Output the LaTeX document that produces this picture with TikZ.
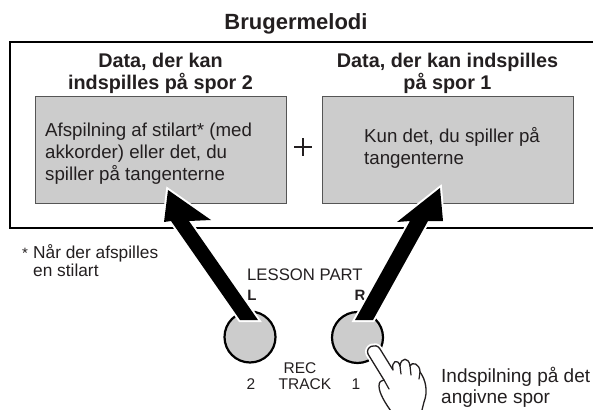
\documentclass[tikz,border=0pt]{standalone}
\usepackage{fontspec}
\setmainfont{Liberation Sans}
\usetikzlibrary{calc}
\definecolor{panel}{HTML}{CCCCCC}
\definecolor{panelrule}{HTML}{555555}
\definecolor{ink}{HTML}{231F20}
\begin{document}
\begin{tikzpicture}[x=1pt,y=-1pt,
  lbl/.style={inner sep=0pt, text=ink},
  body/.style={lbl, anchor=base west, font=\fontsize{18.7}{22}\selectfont},
  head/.style={lbl, anchor=base, font=\fontsize{19.8}{21}\selectfont\bfseries},
  small/.style={lbl, font=\fontsize{16.7}{18}\selectfont},
  tiny/.style={lbl, anchor=base, font=\fontsize{15.5}{16}\selectfont},
  panelbox/.style={draw=panelrule, line width=1pt, fill=panel,
    minimum width=251pt, minimum height=106pt, inner sep=0pt},
  btn/.style={circle, draw=black, line width=2.2pt, fill=panel,
    minimum size=51pt, inner sep=0pt},
  bigarrow/.style={fill=black, preaction={draw=white, line width=4pt, line join=miter}},
  handline/.style={draw=ink, fill=white, line width=1.3pt, line join=round, line cap=round,
    preaction={draw=white, line width=5pt, line join=round}}
]
\clip (0,0) rectangle (593,409);

% title and outer frame
\node[lbl, anchor=base, font=\fontsize{22}{24}\selectfont\bfseries] (title) at (296,30) {Brugermelodi};
\draw[line width=1.8pt, draw=black] (10,42) rectangle (640,228);

% track 2 column
\node[head] (h2a) at (160.5,68) {Data, der kan};
\node[head] (h2b) at (160.5,89) {indspilles på spor 2};
\node[panelbox] (boxL) at (160.5,150) {};
\node[body] (tL1) at (45,136) {Afspilning af stilart* (med};
\node[body] (tL2) at (45,158) {akkorder) eller det, du};
\node[body] (tL3) at (45,180) {spiller på tangenterne};

% plus sign
\coordinate (plus) at (303,147);
\draw[line width=1.8pt, draw=ink] ($(plus)+(-9,0)$) -- ($(plus)+(9,0)$)
  ($(plus)+(0,-9)$) -- ($(plus)+(0,9)$);

% track 1 column
\node[head] (h1a) at (447.5,68) {Data, der kan indspilles};
\node[head] (h1b) at (447.5,89) {på spor 1};
\node[panelbox] (boxR) at (447.5,150) {};
\node[body] (tR1) at (364,142) {Kun det, du spiller på};
\node[body] (tR2) at (364,164) {tangenterne};

% footnote
\node[lbl, anchor=base west, font=\fontsize{15}{16}\selectfont] (star) at (22,258) {*};
\node[lbl, anchor=base west, font=\fontsize{17.3}{18}\selectfont] (fn1) at (33,258) {Når der afspilles};
\node[lbl, anchor=base west, font=\fontsize{17.3}{18}\selectfont] (fn2) at (33,276) {en stilart};

% lesson part buttons
\node[small, anchor=base west] (lesson) at (247,280) {LESSON PART};
\node[lbl, anchor=base, font=\fontsize{15}{16}\selectfont\bfseries] (lL) at (252,300) {L};
\node[lbl, anchor=base, font=\fontsize{15}{16}\selectfont\bfseries] (lR) at (360,300) {R};
\node[btn] (btnL) at (250,337) {};
\node[btn] (btnR) at (357.5,337.5) {};
\node[tiny] (rec) at (300,373) {REC};
\node[tiny] (track) at (305,389) {TRACK};
\node[tiny] (n2) at (251,389) {2};
\node[tiny] (n1) at (356,389) {1};

% arrows from the buttons up into the panels
\coordinate (tipL) at (168,190);
\coordinate (tailL) at (249,320);
\path[bigarrow] (tipL) -- ++(43,30) -- ++(-22,1) -- ($(tailL)+(9,0)$)
  -- ($(tailL)+(-9,0)$) -- ($(tipL)+(3,31)$) -- ($(tipL)+(-4,32)$) -- cycle;
\coordinate (tipR) at (440,188);
\coordinate (tailR) at (364,320);
\path[bigarrow] (tipR) -- ++(3,33) -- ++(-15,0) -- ($(tailR)+(9,0)$)
  -- ($(tailR)+(-9,0)$) -- ($(tipR)+(-30,33)$) -- ($(tipR)+(-43,34)$) -- cycle;

% pressing hand
\path[handline] (384,380) -- (368,354)
  .. controls (365,347) and (376,342) .. (380,349)
  -- (393,370)
  .. controls (391,361) and (398,358) .. (400,366)
  .. controls (401,357) and (409,357) .. (410,366)
  .. controls (412,361) and (420,364) .. (420,372)
  .. controls (426,380) and (428,392) .. (424,402)
  -- (421,414) -- (393,414)
  .. controls (385,403) and (379,393) .. (379,386)
  .. controls (379,382) and (381,380) .. (384,380) -- cycle;
\draw[draw=ink, line width=1.2pt, line cap=round] (400,366) -- (401,374)
  (410,366) -- (411,375) (420,372) -- (419,379) (384,380) -- (389,389);

% caption for the hand
\node[lbl, anchor=base west, font=\fontsize{19}{21}\selectfont] (cap1) at (441,382) {Indspilning på det};
\node[lbl, anchor=base west, font=\fontsize{19}{21}\selectfont] (cap2) at (441,403) {angivne spor};
\end{tikzpicture}
\end{document}
